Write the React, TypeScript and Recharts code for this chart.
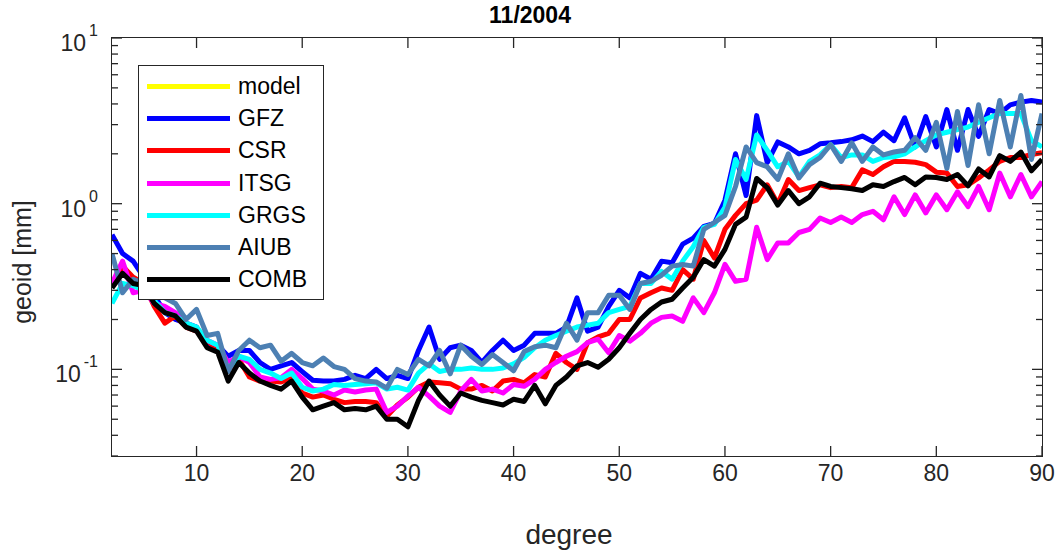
import React from 'react';
import { LineChart, Line, XAxis, YAxis } from 'recharts';

// chart frame (pixels)
const W = 1056;
const H = 556;
const PLOT_LEFT = 112;
const PLOT_RIGHT = 1042;
const PLOT_TOP = 38;
const PLOT_BOTTOM = 456;
const AXIS_COLOR = '#262626';
const FONT = '"Liberation Sans", Arial, Helvetica, sans-serif';

const DEGREES = [
  2, 3, 4, 5, 6, 7, 8, 9, 10, 11, 12, 13, 14, 15, 16, 17, 18, 19, 20, 21, 22, 23, 24, 25, 26, 27, 28, 29, 30,
  31, 32, 33, 34, 35, 36, 37, 38, 39, 40, 41, 42, 43, 44, 45, 46, 47, 48, 49, 50, 51, 52, 53, 54, 55, 56, 57,
  58, 59, 60, 61, 62, 63, 64, 65, 66, 67, 68, 69, 70, 71, 72, 73, 74, 75, 76, 77, 78, 79, 80, 81, 82, 83, 84,
  85, 86, 87, 88, 89, 90,
];

const GFZ = [
  0.65, 0.5, 0.45, 0.36, 0.28, 0.22, 0.2, 0.19, 0.18, 0.14,
  0.14, 0.12, 0.13, 0.13, 0.11, 0.1, 0.105, 0.11, 0.097, 0.086,
  0.085, 0.085, 0.087, 0.092, 0.088, 0.1, 0.088, 0.092, 0.088, 0.13,
  0.18, 0.115, 0.135, 0.14, 0.13, 0.11, 0.13, 0.15, 0.13, 0.14,
  0.165, 0.165, 0.165, 0.18, 0.27, 0.17, 0.18, 0.24, 0.3, 0.27,
  0.38, 0.35, 0.45, 0.44, 0.57, 0.62, 0.73, 0.76, 1.05, 2.0,
  1.12, 3.4, 1.77, 2.36, 2.2, 2.0, 2.1, 2.3, 2.33, 2.37,
  2.43, 2.56, 2.37, 2.7, 2.4, 3.3, 2.2, 3.35, 2.2, 3.7,
  2.1, 3.7, 2.55, 3.7, 3.5, 3.95, 4.1, 4.2, 4.1,
];

const CSR = [
  0.32, 0.42, 0.36, 0.33, 0.24, 0.19, 0.21, 0.18, 0.17, 0.15,
  0.13, 0.1, 0.115, 0.09, 0.085, 0.085, 0.084, 0.088, 0.072, 0.068,
  0.07, 0.066, 0.063, 0.064, 0.064, 0.063, 0.052, 0.061, 0.068, 0.078,
  0.084, 0.083, 0.082, 0.076, 0.076, 0.08, 0.074, 0.085, 0.087, 0.083,
  0.093, 0.09, 0.125, 0.11, 0.1, 0.145, 0.157, 0.165, 0.2, 0.2,
  0.27, 0.29, 0.31, 0.3, 0.4, 0.35, 0.6, 0.47, 0.7, 0.85,
  1.0, 1.05, 1.3, 1.0, 1.4, 1.2, 1.25, 1.3, 1.25, 1.27,
  1.25, 1.6, 1.5, 1.67, 1.8, 1.8, 1.78, 1.72, 1.55, 1.53,
  1.27, 1.3, 1.43, 1.6, 1.8, 1.9, 1.9, 1.98, 2.03,
];

const ITSG = [
  0.33, 0.45, 0.29, 0.3, 0.25, 0.24, 0.22, 0.19, 0.17, 0.15,
  0.14, 0.11, 0.12, 0.11, 0.09, 0.087, 0.089, 0.1, 0.088, 0.076,
  0.074, 0.07, 0.075, 0.073, 0.075, 0.076, 0.055, 0.06, 0.069, 0.078,
  0.069, 0.06, 0.055, 0.074, 0.087, 0.074, 0.076, 0.072, 0.081, 0.079,
  0.087, 0.1, 0.11, 0.12, 0.128, 0.145, 0.152, 0.126, 0.16, 0.148,
  0.165, 0.19, 0.206, 0.21, 0.195, 0.27, 0.22, 0.29, 0.43, 0.34,
  0.35, 0.72, 0.46, 0.58, 0.58, 0.67, 0.7, 0.82, 0.77, 0.83,
  0.77, 0.86, 0.9, 0.8, 1.1, 0.86, 1.13, 0.88, 1.13, 0.92,
  1.18, 0.96, 1.27, 0.92, 1.53, 1.1, 1.5, 1.1, 1.36,
];

const GRGS = [
  0.25, 0.33, 0.32, 0.3, 0.26, 0.22, 0.21, 0.19, 0.18, 0.15,
  0.14, 0.1, 0.12, 0.115, 0.1, 0.095, 0.088, 0.095, 0.078, 0.074,
  0.076, 0.081, 0.08, 0.081, 0.082, 0.083, 0.076, 0.078, 0.075, 0.095,
  0.108, 0.097, 0.1, 0.1, 0.102, 0.1, 0.1, 0.102, 0.108, 0.118,
  0.135, 0.15, 0.16, 0.17, 0.18, 0.185, 0.19, 0.22, 0.23, 0.24,
  0.33, 0.33, 0.39, 0.35, 0.45, 0.55, 0.72, 0.75, 0.95, 1.85,
  1.4, 2.6, 2.1, 1.67, 1.8, 1.45, 1.8, 1.97, 2.27, 1.9,
  1.97, 1.97, 1.8, 1.9, 1.92, 2.0, 2.2, 2.4, 2.6, 2.7,
  2.8, 2.9, 3.1, 3.3, 3.5, 3.5, 3.5, 2.4, 2.2,
];

const AIUB = [
  0.5, 0.29, 0.35, 0.33, 0.3, 0.27, 0.25, 0.2, 0.23, 0.16,
  0.165, 0.097, 0.13, 0.15, 0.135, 0.14, 0.112, 0.125, 0.11, 0.105,
  0.117, 0.104, 0.1, 0.088, 0.085, 0.084, 0.077, 0.1, 0.093, 0.115,
  0.105, 0.13, 0.094, 0.14, 0.12, 0.107, 0.123, 0.11, 0.098, 0.128,
  0.137, 0.14, 0.135, 0.19, 0.15, 0.22, 0.22, 0.28, 0.28, 0.23,
  0.33, 0.34, 0.37, 0.42, 0.43, 0.42, 0.7, 0.77, 0.85, 1.27,
  2.2, 1.77, 1.67, 1.4, 2.0, 1.43, 1.72, 1.9, 2.27, 1.8,
  2.33, 1.8, 2.2, 1.97, 2.05, 2.1, 2.5, 2.1, 3.1, 1.63,
  3.6, 1.7, 3.95, 2.0, 4.2, 2.2, 4.5, 1.85, 3.5,
];

const COMB = [
  0.31, 0.38, 0.33, 0.32, 0.25, 0.22, 0.21, 0.18, 0.17, 0.135,
  0.127, 0.085, 0.11, 0.095, 0.085, 0.08, 0.076, 0.085, 0.068, 0.057,
  0.06, 0.063, 0.057, 0.058, 0.057, 0.06, 0.05, 0.05, 0.045, 0.065,
  0.085, 0.07, 0.06, 0.072, 0.068, 0.065, 0.063, 0.061, 0.066, 0.064,
  0.08, 0.062, 0.08, 0.09, 0.105, 0.11, 0.103, 0.115, 0.135, 0.165,
  0.2, 0.23, 0.255, 0.265, 0.31, 0.36, 0.46, 0.42, 0.53, 0.75,
  0.83, 1.42, 1.25, 0.98, 1.2, 1.0, 1.1, 1.33, 1.27, 1.25,
  1.23, 1.2, 1.3, 1.27, 1.36, 1.44, 1.3, 1.45, 1.44, 1.4,
  1.5, 1.28, 1.62, 1.45, 1.95, 1.8, 2.05, 1.58, 1.85,
];

const X_TICKS = [10, 20, 30, 40, 50, 60, 70, 80, 90];
const Y_TICKS = [
  0.03, 0.04, 0.05, 0.06, 0.07, 0.08, 0.09, 0.1, 0.2, 0.3, 0.4, 0.5, 0.6, 0.7, 0.8, 0.9,
  1, 2, 3, 4, 5, 6, 7, 8, 9, 10,
];
const Y_LABELS: Record<string, string> = { '0.1': '-1', '1': '0', '10': '1' };

// drawing order: later entries sit on top
const SERIES = [
  { key: 'model', name: 'model', color: '#ffff00', values: null as number[] | null },
  { key: 'GFZ', name: 'GFZ', color: '#0000ff', values: GFZ },
  { key: 'CSR', name: 'CSR', color: '#ff0000', values: CSR },
  { key: 'ITSG', name: 'ITSG', color: '#ff00ff', values: ITSG },
  { key: 'GRGS', name: 'GRGS', color: '#00ffff', values: GRGS },
  { key: 'AIUB', name: 'AIUB', color: '#4d80b3', values: AIUB },
  { key: 'COMB', name: 'COMB', color: '#000000', values: COMB },
];

const data = DEGREES.map((d, i) => {
  const row: Record<string, number> = { degree: d };
  SERIES.forEach((s) => {
    if (s.values) row[s.key] = s.values[i];
  });
  return row;
});

function BottomTick({ x, payload }: any) {
  return (
    <g>
      <line x1={x} x2={x} y1={PLOT_BOTTOM} y2={PLOT_BOTTOM - 10} stroke={AXIS_COLOR} strokeWidth={1.3} />
      <line x1={x} x2={x} y1={PLOT_TOP} y2={PLOT_TOP + 10} stroke={AXIS_COLOR} strokeWidth={1.3} />
      <text x={x} y={PLOT_BOTTOM + 25} textAnchor="middle" fontSize={23} fill={AXIS_COLOR} fontFamily={FONT}>
        {payload.value}
      </text>
    </g>
  );
}

function LeftTick({ y, payload }: any) {
  const exp = Y_LABELS[String(payload.value)];
  const len = exp !== undefined ? 10 : 6;
  return (
    <g>
      <line x1={PLOT_LEFT} x2={PLOT_LEFT + len} y1={y} y2={y} stroke={AXIS_COLOR} strokeWidth={1.3} />
      <line x1={PLOT_RIGHT} x2={PLOT_RIGHT - len} y1={y} y2={y} stroke={AXIS_COLOR} strokeWidth={1.3} />
      {exp !== undefined && (
        <text x={PLOT_LEFT - 14} y={y + 13} textAnchor="end" fontSize={23} fill={AXIS_COLOR} fontFamily={FONT}>
          <tspan>10</tspan>
          <tspan dx={3} dy={-15} fontSize={16}>
            {exp}
          </tspan>
        </text>
      )}
    </g>
  );
}

function LegendBox() {
  return (
    <div
      style={{
        position: 'absolute',
        left: 138,
        top: 65,
        border: `1.3px solid ${AXIS_COLOR}`,
        background: '#fff',
        width: 184,
        padding: '4px 0 3px 0',
        fontFamily: FONT,
        fontSize: 23,
        color: '#000',
      }}
    >
      {SERIES.map((s) => (
        <div key={s.key} style={{ display: 'flex', alignItems: 'center', height: 32.3 }}>
          <div style={{ width: 83, height: 5, background: s.color, marginLeft: 8, marginRight: 8 }} />
          <span style={{ lineHeight: '23px' }}>{s.name}</span>
        </div>
      ))}
    </div>
  );
}

export default function App() {
  return (
    <div style={{ position: 'absolute', left: 0, top: 0, width: W, height: H, background: '#fff' }}>
      <LineChart
        width={W}
        height={H}
        data={data}
        margin={{ top: PLOT_TOP, right: W - PLOT_RIGHT, bottom: 0, left: 0 }}
      >
        <XAxis
          dataKey="degree"
          type="number"
          domain={[2, 90]}
          ticks={X_TICKS}
          allowDataOverflow
          height={H - PLOT_BOTTOM}
          axisLine={false}
          tickLine={false}
          tick={<BottomTick />}
        />
        <YAxis
          type="number"
          scale="log"
          domain={[0.03, 10]}
          ticks={Y_TICKS}
          allowDataOverflow
          width={PLOT_LEFT}
          interval={0}
          axisLine={false}
          tickLine={false}
          tick={<LeftTick />}
        />
        {SERIES.filter((s) => s.values).map((s) => (
          <Line
            key={s.key}
            dataKey={s.key}
            name={s.name}
            type="linear"
            stroke={s.color}
            strokeWidth={5}
            strokeLinejoin="round"
            dot={false}
            activeDot={false}
            isAnimationActive={false}
          />
        ))}
      </LineChart>
      {/* axes box */}
      <div
        style={{
          position: 'absolute',
          left: PLOT_LEFT - 0.65,
          top: PLOT_TOP - 0.65,
          width: PLOT_RIGHT - PLOT_LEFT,
          height: PLOT_BOTTOM - PLOT_TOP,
          border: `1.3px solid ${AXIS_COLOR}`,
          pointerEvents: 'none',
        }}
      />
      <LegendBox />
      <div
        style={{
          position: 'absolute',
          left: 330,
          width: 400,
          top: 0,
          textAlign: 'center',
          fontFamily: FONT,
          fontWeight: 'bold',
          fontSize: 23,
          color: '#000',
          lineHeight: '30px',
        }}
      >
        11/2004
      </div>
      <div
        style={{
          position: 'absolute',
          left: 369,
          width: 400,
          top: 517,
          textAlign: 'center',
          fontFamily: FONT,
          fontSize: 28,
          color: AXIS_COLOR,
          lineHeight: '36px',
        }}
      >
        degree
      </div>
      <div
        style={{
          position: 'absolute',
          left: 22 - 100,
          top: 262 - 15,
          width: 200,
          height: 30,
          textAlign: 'center',
          fontFamily: FONT,
          fontSize: 25,
          color: AXIS_COLOR,
          lineHeight: '30px',
          transform: 'rotate(-90deg)',
        }}
      >
        geoid [mm]
      </div>
    </div>
  );
}
